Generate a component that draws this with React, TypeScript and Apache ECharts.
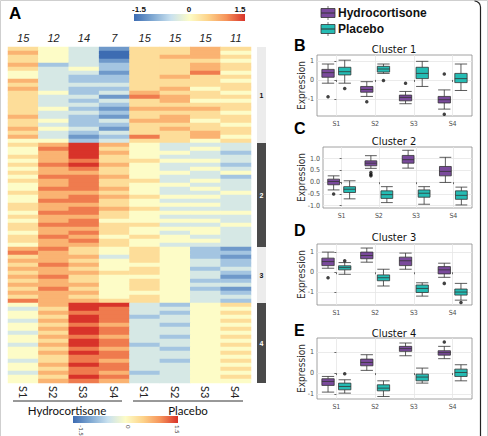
import React, { useEffect, useRef } from "react";
import * as echarts from "echarts";

// ---------- heatmap data ----------
const columnNames = ["S1", "S2", "S3", "S4", "S1", "S2", "S3", "S4"];
const sampleCounts = ["15", "12", "14", "7", "15", "15", "15", "11"];
const groupNames = ["Hydrocortisone", "Placebo"];
const clusterNames = ["1", "2", "3", "4"];

// each row: one digit per column, digit d -> z-score (d - 4) * 0.375
const cluster1Rows = [
  "54315565", "64305564", "54305665", "54315554", "62325565", "53425565",
  "43315574", "43225655", "63225554", "53335555", "63225645", "54236554",
  "53317655", "53235644", "53325555", "54216665", "53325554", "63215655",
  "54236645", "53225554", "64315655", "53235565", "63127564", "44235545",
];
const cluster2Rows = [
  "56864333", "47854343", "46864432", "56854333", "46755443", "57864332",
  "46754343", "56654434", "47764332", "56755343", "46754433", "47764343",
  "56654334", "46765443", "47754333", "56654443", "56765333", "47754444",
  "56654333", "46744443", "57755334", "56654443", "46754343", "57645433",
  "56754443", "46654333",
];
const cluster3Rows = [
  "67545421", "76545422", "56635421", "66545432", "57644432", "66545423",
  "56655432", "67544431", "56545422", "66645433", "57545421", "66644432",
  "56545433", "76655432",
];
const cluster4Rows = [
  "46883245", "35873344", "46773245", "45872344", "36873345", "45763244",
  "46873345", "35873344", "46763245", "45873344", "36872345", "45763244",
  "46873345", "45773344", "35763245", "46873344", "45773345", "36762344",
  "45873345", "46763344",
];
const clusterRows = [cluster1Rows, cluster2Rows, cluster3Rows, cluster4Rows];
const colorStops = ["#3d6cb2", "#7fa8d2", "#c9e1ef", "#fdfcc7", "#fdd38a", "#f6935a", "#d8332a"];

// ---------- box plot data: [min, Q1, median, Q3, max] per stage ----------
const stages = ["S1", "S2", "S3", "S4"];

const c1Hydro = [[-0.17, 0.14, 0.38, 0.55, 0.83], [-0.86, -0.64, -0.5, -0.34, -0.09], [-1.24, -1.09, -0.91, -0.79, -0.6], [-1.52, -1.2, -1.03, -0.86, -0.52]];
const c1Placebo = [[-0.17, 0.26, 0.43, 0.66, 1.03], [0.34, 0.41, 0.57, 0.71, 0.83], [-0.34, 0.07, 0.34, 0.66, 0.97], [-0.55, -0.14, 0.07, 0.34, 0.83]];
const c1HydroOut = [[0, -0.88], [1, -1.14], [2, -0.17], [3, 0.31], [3, -1.79]];
const c1PlaceboOut = [[0, -0.45], [1, -0.03]];

const c2Hydro = [[-0.33, -0.11, 0.03, 0.13, 0.27], [0.59, 0.7, 0.81, 0.91, 1.13], [0.6, 0.81, 0.96, 1.14, 1.36], [-0.01, 0.27, 0.46, 0.67, 1.06]];
const c2Placebo = [[-0.71, -0.44, -0.3, -0.19, 0.06], [-0.87, -0.69, -0.53, -0.37, -0.19], [-0.94, -0.64, -0.47, -0.33, -0.19], [-0.97, -0.73, -0.56, -0.37, -0.21]];
const c2HydroOut = [[0, -0.5], [1, 0.41], [1, 0.33], [1, 0.27]];
const c2PlaceboOut: number[][] = [];

const c3Hydro = [[0.2, 0.33, 0.53, 0.7, 1.0], [0.5, 0.67, 0.83, 1.0, 1.2], [0.15, 0.33, 0.57, 0.75, 0.95], [-0.25, -0.08, 0.12, 0.28, 0.45]];
const c3Placebo = [[-0.1, 0.12, 0.23, 0.32, 0.48], [-0.68, -0.42, -0.27, -0.13, 0.15], [-1.18, -1.0, -0.8, -0.63, -0.52], [-1.38, -1.13, -0.98, -0.83, -0.55]];
const c3HydroOut = [[0, -0.27], [3, -0.55]];
const c3PlaceboOut = [[0, 0.57], [3, -1.5]];

const c4Hydro = [[-0.91, -0.59, -0.4, -0.27, -0.16], [0.13, 0.35, 0.51, 0.67, 0.88], [0.83, 1.04, 1.17, 1.28, 1.44], [0.69, 0.86, 0.98, 1.07, 1.28]];
const c4Placebo = [[-0.96, -0.8, -0.64, -0.48, -0.32], [-1.12, -0.85, -0.72, -0.56, -0.37], [-0.48, -0.37, -0.19, -0.05, 0.24], [-0.37, -0.16, 0.03, 0.19, 0.4]];
const c4HydroOut = [[3, 1.49]];
const c4PlaceboOut = [[0, -0.03]];

const yTicksB = [-1, 0, 1];
const yTicksC = [-1, -0.5, 0, 0.5, 1];
const yTicksD = [-1, 0, 1];
const yTicksE = [-1, 0, 1];

const PURPLE = "#7a4a9c";
const TEAL = "#25bcb4";
const NARROW = "'Liberation Sans Narrow', 'DejaVu Sans Condensed', 'Liberation Sans', sans-serif";
const SANS = "'Liberation Sans', Arial, sans-serif";
const HEAT_FONT = "Lato, 'Open Sans', sans-serif";

export default function App() {
  const ref = useRef<HTMLDivElement>(null);

  useEffect(() => {
    if (!ref.current) return;
    const chart = echarts.init(ref.current, null, { renderer: "svg" });

    // ----- heatmap cells -----
    const heatData: number[][] = [];
    const rowLabels: string[] = [];
    let r = 0;
    clusterRows.forEach((rows) => {
      rows.forEach((row) => {
        for (let c = 0; c < row.length; c++) {
          heatData.push([c, r, (Number(row[c]) - 4) * 0.375]);
        }
        rowLabels.push(String(r));
        r++;
      });
    });
    const totalRows = r;

    const heat = { left: 8, top: 47, width: 243, height: 336 };
    const side = { left: 257, width: 9 };

    const grids: any[] = [
      { left: heat.left, top: heat.top, width: heat.width, height: heat.height },
      { left: side.left, top: heat.top, width: side.width, height: heat.height },
    ];
    const xAxes: any[] = [
      {
        type: "category", gridIndex: 0, data: columnNames, position: "bottom",
        axisLine: { show: false }, axisTick: { show: false },
        axisLabel: { rotate: -90, fontSize: 11, color: "#222", margin: 3, fontFamily: HEAT_FONT },
      },
      {
        type: "category", gridIndex: 0, data: sampleCounts, position: "top",
        axisLine: { show: false }, axisTick: { show: false },
        axisLabel: { fontSize: 11, fontStyle: "italic", color: "#222", margin: 4, fontFamily: SANS },
      },
      { type: "category", gridIndex: 1, data: ["k"], show: false },
    ];
    const yAxes: any[] = [
      { type: "category", gridIndex: 0, data: rowLabels, inverse: true, show: false },
      { type: "value", gridIndex: 1, min: 0, max: totalRows, inverse: true, show: false },
    ];
    const series: any[] = [
      {
        type: "heatmap", xAxisIndex: 0, yAxisIndex: 0, data: heatData,
        itemStyle: { borderWidth: 0 }, emphasis: { disabled: true },
      },
    ];
    clusterRows.forEach((rows, i) => {
      const dark = i % 2 === 1;
      series.push({
        type: "bar", xAxisIndex: 2, yAxisIndex: 1, stack: "clusters",
        data: [rows.length], barWidth: "100%",
        itemStyle: { color: dark ? "#4a4a4a" : "#ececec" },
        label: {
          show: true, position: "inside", formatter: clusterNames[i],
          fontSize: 7, fontWeight: "bold", color: dark ? "#fff" : "#111", fontFamily: SANS,
        },
        emphasis: { disabled: true }, silent: true,
      });
    });

    // ----- box plot panels -----
    const panels = [
      { title: "Cluster 1", letter: "B", left: 317, top: 55, yMin: -1.88, yMax: 1.3, ticks: yTicksB, hydro: c1Hydro, placebo: c1Placebo, hOut: c1HydroOut, pOut: c1PlaceboOut, titleY: 49, letterY: 45, fmt: (v: number) => String(v) },
      { title: "Cluster 2", letter: "C", left: 323, top: 147, yMin: -1.1, yMax: 1.5, ticks: yTicksC, hydro: c2Hydro, placebo: c2Placebo, hOut: c2HydroOut, pOut: c2PlaceboOut, titleY: 141, letterY: 128, fmt: (v: number) => v.toFixed(1) },
      { title: "Cluster 3", letter: "D", left: 317, top: 244, yMin: -1.62, yMax: 1.4, ticks: yTicksD, hydro: c3Hydro, placebo: c3Placebo, hOut: c3HydroOut, pOut: c3PlaceboOut, titleY: 237, letterY: 230, fmt: (v: number) => String(v) },
      { title: "Cluster 4", letter: "E", left: 317, top: 338, yMin: -1.24, yMax: 1.68, ticks: yTicksE, hydro: c4Hydro, placebo: c4Placebo, hOut: c4HydroOut, pOut: c4PlaceboOut, titleY: 333, letterY: 330, fmt: (v: number) => String(v) },
    ];
    const boxRight = 472;
    const boxHeight = 61;

    const graphics: any[] = [];

    panels.forEach((p) => {
      const width = boxRight - p.left;
      // horizontal offset ECharts uses for two box series in one band (in band units)
      const band = width / stages.length;
      const avail = band * 0.8 - 2;
      const gap = (avail / 2) * 0.3;
      const bw = (avail - gap) / 2;
      const off = (avail / 2 - bw / 2) / band;

      const gi = grids.length;
      grids.push({
        left: p.left, top: p.top, width, height: boxHeight,
        show: true, backgroundColor: "#fff", borderColor: "#8a8a8a", borderWidth: 0.8,
      });
      const catIdx = xAxes.length;
      xAxes.push({
        type: "category", gridIndex: gi, data: stages,
        axisLine: { show: false },
        axisTick: { show: true, alignWithLabel: true, length: 2, lineStyle: { color: "#666" } },
        axisLabel: { fontSize: 7, color: "#4d4d4d", margin: 4, fontFamily: NARROW },
        splitLine: { show: false },
      });
      const valIdx = xAxes.length;
      xAxes.push({
        type: "value", gridIndex: gi, min: -0.5, max: 3.5,
        axisLine: { show: false },
        axisTick: { show: false, customValues: [0, 1, 2, 3] },
        axisLabel: { show: false, customValues: [0, 1, 2, 3] },
        splitLine: { show: true, lineStyle: { color: "#e6e6e6", width: 0.8 } },
      });
      const yIdx = yAxes.length;
      yAxes.push({
        type: "value", gridIndex: gi, min: p.yMin, max: p.yMax,
        axisLine: { show: false },
        axisTick: { show: true, customValues: p.ticks, length: 2, lineStyle: { color: "#666" } },
        axisLabel: { customValues: p.ticks, fontSize: 7, color: "#4d4d4d", margin: 3, fontFamily: NARROW, formatter: p.fmt },
        splitLine: { show: true, lineStyle: { color: "#e6e6e6", width: 0.8 } },
      });
      series.push(
        {
          type: "boxplot", xAxisIndex: catIdx, yAxisIndex: yIdx, data: p.hydro,
          itemStyle: { color: PURPLE, borderColor: "#333", borderWidth: 0.8 },
          emphasis: { disabled: true }, silent: true, z: 3,
        },
        {
          type: "boxplot", xAxisIndex: catIdx, yAxisIndex: yIdx, data: p.placebo,
          itemStyle: { color: TEAL, borderColor: "#333", borderWidth: 0.8 },
          emphasis: { disabled: true }, silent: true, z: 3,
        },
        {
          type: "scatter", xAxisIndex: valIdx, yAxisIndex: yIdx,
          data: p.hOut.map((d) => [d[0] - off, d[1]]).concat(p.pOut.map((d) => [d[0] + off, d[1]])),
          symbolSize: 3.5, itemStyle: { color: "#111" }, silent: true, z: 4,
        }
      );
      graphics.push(
        {
          type: "text", x: 394, y: p.titleY,
          style: { text: p.title, fontSize: 11, fontFamily: NARROW, fill: "#111", align: "center", verticalAlign: "middle" },
        },
        {
          type: "text", x: 294, y: p.letterY,
          style: { text: p.letter, fontSize: 16, fontWeight: "bold", fontFamily: SANS, fill: "#000", align: "left", verticalAlign: "middle" },
        },
        {
          type: "text", x: 301, y: p.top + boxHeight / 2, rotation: Math.PI / 2,
          style: { text: "Expression", fontSize: 10, fontFamily: NARROW, fill: "#333", align: "center", verticalAlign: "middle" },
        }
      );
    });

    // ----- legend (box glyph + name) -----
    [PURPLE, TEAL].forEach((col, i) => {
      const y = 13 + i * 16;
      graphics.push(
        { type: "line", shape: { x1: 328, y1: y - 7, x2: 328, y2: y + 7 }, style: { stroke: "#555", lineWidth: 0.8 } },
        { type: "rect", shape: { x: 321, y: y - 4.5, width: 14, height: 9 }, style: { fill: col, stroke: "#333", lineWidth: 0.8 } },
        { type: "line", shape: { x1: 321, y1: y, x2: 335, y2: y }, style: { stroke: "#333", lineWidth: 1 } },
        {
          type: "text", x: 338, y,
          style: { text: groupNames[i], fontSize: 12, fontWeight: "bold", fontFamily: SANS, fill: "#111", align: "left", verticalAlign: "middle" },
        }
      );
    });

    // ----- colour keys -----
    const gradient = () =>
      new echarts.graphic.LinearGradient(0, 0, 1, 0, colorStops.map((c, i) => ({ offset: i / (colorStops.length - 1), color: c })));
    graphics.push(
      { type: "rect", shape: { x: 134, y: 14, width: 111, height: 7 }, style: { fill: gradient() } },
      { type: "text", x: 139, y: 9, style: { text: "-1.5", fontSize: 8, fontWeight: "bold", fontFamily: SANS, fill: "#111", align: "center", verticalAlign: "middle" } },
      { type: "text", x: 189, y: 9, style: { text: "0", fontSize: 8, fontWeight: "bold", fontFamily: SANS, fill: "#111", align: "center", verticalAlign: "middle" } },
      { type: "text", x: 240, y: 9, style: { text: "1.5", fontSize: 8, fontWeight: "bold", fontFamily: SANS, fill: "#111", align: "center", verticalAlign: "middle" } },
      { type: "rect", shape: { x: 73, y: 416, width: 105, height: 7 }, style: { fill: gradient() } }
    );
    [["-1.5", 81], ["0", 128], ["1.5", 177]].forEach(([t, x]) => {
      graphics.push({
        type: "text", x: x as number, y: 425, rotation: -Math.PI / 2,
        style: { text: t as string, fontSize: 6, fontFamily: HEAT_FONT, fill: "#333", align: "left", verticalAlign: "middle" },
      });
    });

    // ----- group brackets under the heatmap -----
    graphics.push(
      { type: "line", shape: { x1: 13, y1: 401, x2: 122, y2: 401 }, style: { stroke: "#333", lineWidth: 1 } },
      { type: "line", shape: { x1: 133, y1: 401, x2: 243, y2: 401 }, style: { stroke: "#333", lineWidth: 1 } },
      { type: "text", x: 67, y: 410, style: { text: groupNames[0], fontSize: 11.5, fontFamily: HEAT_FONT, fill: "#111", align: "center", verticalAlign: "middle" } },
      { type: "text", x: 188, y: 410, style: { text: groupNames[1], fontSize: 11.5, fontFamily: HEAT_FONT, fill: "#111", align: "center", verticalAlign: "middle" } },
      { type: "text", x: 9, y: 13, style: { text: "A", fontSize: 17, fontWeight: "bold", fontFamily: SANS, fill: "#000", align: "left", verticalAlign: "middle" } }
    );

    // ----- frame -----
    graphics.push(
      { type: "rect", shape: { x: 0.5, y: 0.5, width: 487, height: 440 }, style: { fill: "none", stroke: "#cfcfcf", lineWidth: 1 } },
      { type: "line", shape: { x1: 480.5, y1: 7, x2: 480.5, y2: 436 }, style: { stroke: "#222", lineWidth: 1.2 } },
      { type: "arc", shape: { cx: 474.5, cy: 7, r: 6, startAngle: -Math.PI / 2, endAngle: 0 }, style: { stroke: "#222", lineWidth: 1.2, fill: "none" } }
    );

    chart.setOption({
      animation: false,
      backgroundColor: "#fff",
      grid: grids,
      xAxis: xAxes,
      yAxis: yAxes,
      visualMap: {
        type: "continuous", min: -1.5, max: 1.5, show: false, seriesIndex: 0,
        inRange: { color: colorStops },
      },
      series,
      graphic: graphics,
    });

    return () => chart.dispose();
  }, []);

  return <div ref={ref} style={{ position: "fixed", left: 0, top: 0, width: 488, height: 436 }} />;
}
